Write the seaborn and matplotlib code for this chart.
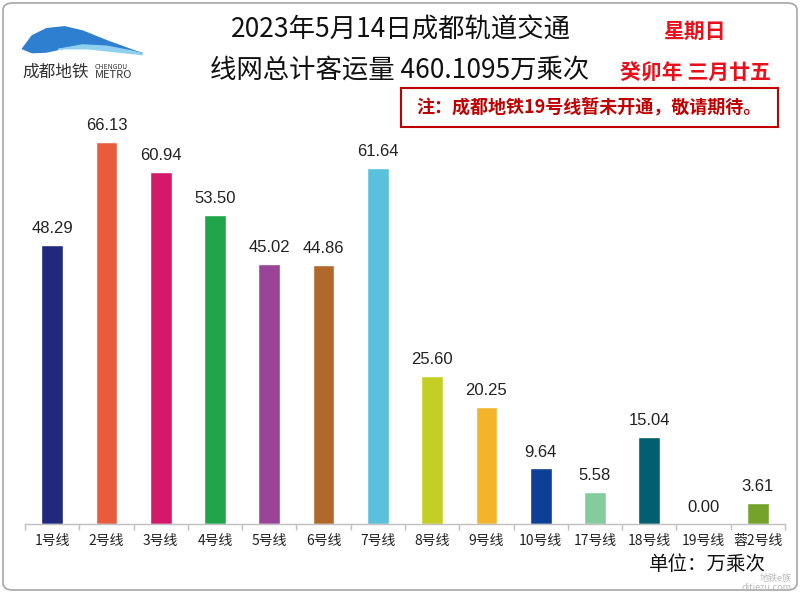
import numpy as np
import pandas as pd
import seaborn as sns
import matplotlib.pyplot as plt
from matplotlib.patches import FancyBboxPatch, Rectangle

# data
lines = ['1号线', '2号线', '3号线', '4号线', '5号线', '6号线', '7号线',
         '8号线', '9号线', '10号线', '17号线', '18号线', '19号线', '蓉2号线']
ridership = [48.29, 66.13, 60.94, 53.50, 45.02, 44.86, 61.64,
             25.60, 20.25, 9.64, 5.58, 15.04, 0.00, 3.61]
line_colors = ['#1f2a7c', '#e85c3d', '#d4186a', '#21a54b', '#9a4498', '#b0692b', '#5ac1dc',
               '#c3cf24', '#f3b42b', '#0d3e98', '#86cb9e', '#00606f', '#ffffff', '#74a22b']
total = '460.1095'

sns.set_theme(style='white')
plt.rcParams['font.family'] = ['Noto Sans CJK SC', 'DejaVu Sans']

df = pd.DataFrame({'line': lines, 'value': ridership})

fig = plt.figure(figsize=(8, 5.95), dpi=100)
ax = fig.add_axes([25 / 800, 71 / 595, 760 / 800, 433.5 / 595])

sns.barplot(data=df, x='line', y='value', hue='line', palette=line_colors,
            width=0.4, legend=False, ax=ax, saturation=1)

for i, v in enumerate(ridership):
    ax.text(i, v + 1.5, f'{v:.2f}', ha='center', va='bottom', fontsize=12,
            color='#222222', family=['Liberation Sans', 'DejaVu Sans'])

ax.set_ylim(0, 75)
ax.set_xlim(-0.5, len(lines) - 0.5)
ax.set_xlabel('')
ax.set_ylabel('')
ax.set_yticks([])
for s in ['top', 'right', 'left']:
    ax.spines[s].set_visible(False)
ax.spines['bottom'].set_color('#bfbfbf')
ax.spines['bottom'].set_linewidth(1)
ax.set_xticks(np.arange(len(lines)))
ax.set_xticklabels(lines, fontsize=10, color='#222222')
ax.set_xticks(np.arange(len(lines) + 1) - 0.5, minor=True)
ax.tick_params(axis='x', which='major', length=0, pad=7)
ax.tick_params(axis='x', which='minor', length=4, color='#bfbfbf', width=1, bottom=True)

# figure border
fig.patches.append(FancyBboxPatch((3 / 800, 5 / 595), 794 / 800, 587 / 595,
                                  boxstyle='round,pad=0,rounding_size=0.012',
                                  transform=fig.transFigure, fill=False,
                                  edgecolor='#a6a6a6', linewidth=1.2))

# titles
fig.text(401 / 800, 1 - 30 / 595, '2023年5月14日成都轨道交通', ha='center', va='center',
         fontsize=19, color='#111111')
fig.text(400 / 800, 1 - 70 / 595, f'线网总计客运量 {total}万乘次', ha='center', va='center',
         fontsize=19, color='#111111')
fig.text(695 / 800, 1 - 31 / 595, '星期日', ha='center', va='center',
         fontsize=15, color='#e8101a', fontweight='bold')
fig.text(695 / 800, 1 - 72 / 595, '癸卯年 三月廿五', ha='center', va='center',
         fontsize=15, color='#e8101a', fontweight='bold')
fig.patches.append(Rectangle((401 / 800, 1 - 127 / 595), 377 / 800, 39 / 595,
                             transform=fig.transFigure, fill=False,
                             edgecolor='#c00000', linewidth=1.5))
fig.text(589 / 800, 1 - 107 / 595, '注：成都地铁19号线暂未开通，敬请期待。', ha='center', va='center',
         fontsize=13, color='#c00000', fontweight='bold')
fig.text(766 / 800, 1 - 564 / 595, '单位：万乘次', ha='right', va='center',
         fontsize=14, color='#111111')

# logo swoosh
lax = fig.add_axes([22 / 800, 1 - 58 / 595, 120 / 800, 34 / 595])
t = np.linspace(0, 1, 200)
up = np.interp(t, [0, 0.08, 0.2, 0.35, 0.5, 0.7, 0.9, 1.0],
               [0.3, 0.7, 0.92, 0.98, 0.85, 0.55, 0.28, 0.15])
mid = np.interp(t, [0, 0.08, 0.2, 0.35, 0.5, 0.7, 0.9, 1.0],
                [0.3, 0.18, 0.2, 0.32, 0.42, 0.38, 0.24, 0.15])
low = np.interp(t, [0, 0.25, 0.4, 0.55, 0.75, 0.9, 1.0],
                [0.3, 0.3, 0.3, 0.3, 0.22, 0.16, 0.12])
lax.fill_between(t, mid, up, color='#2f7fd0')
lax.fill_between(t, np.minimum(low, mid), mid, where=t > 0.3, color='#8fd0f0')
lax.set_xlim(0, 1)
lax.set_ylim(0, 1.05)
lax.axis('off')
fig.text(22 / 800, 1 - 72 / 595, '成都地铁', ha='left', va='center', fontsize=12, color='#333333')
fig.text(95 / 800, 1 - 67 / 595, 'CHENGDU', ha='left', va='center', fontsize=5, color='#333333')
fig.text(95 / 800, 1 - 75 / 595, 'METRO', ha='left', va='center', fontsize=8, color='#333333')

# watermark
fig.text(792 / 800, 1 - 583 / 595, '地铁e族\nditiezu.com', ha='right', va='center',
         fontsize=6.5, color='#bbbbbb', linespacing=1.0)

fig.savefig('out.png', dpi=100)
